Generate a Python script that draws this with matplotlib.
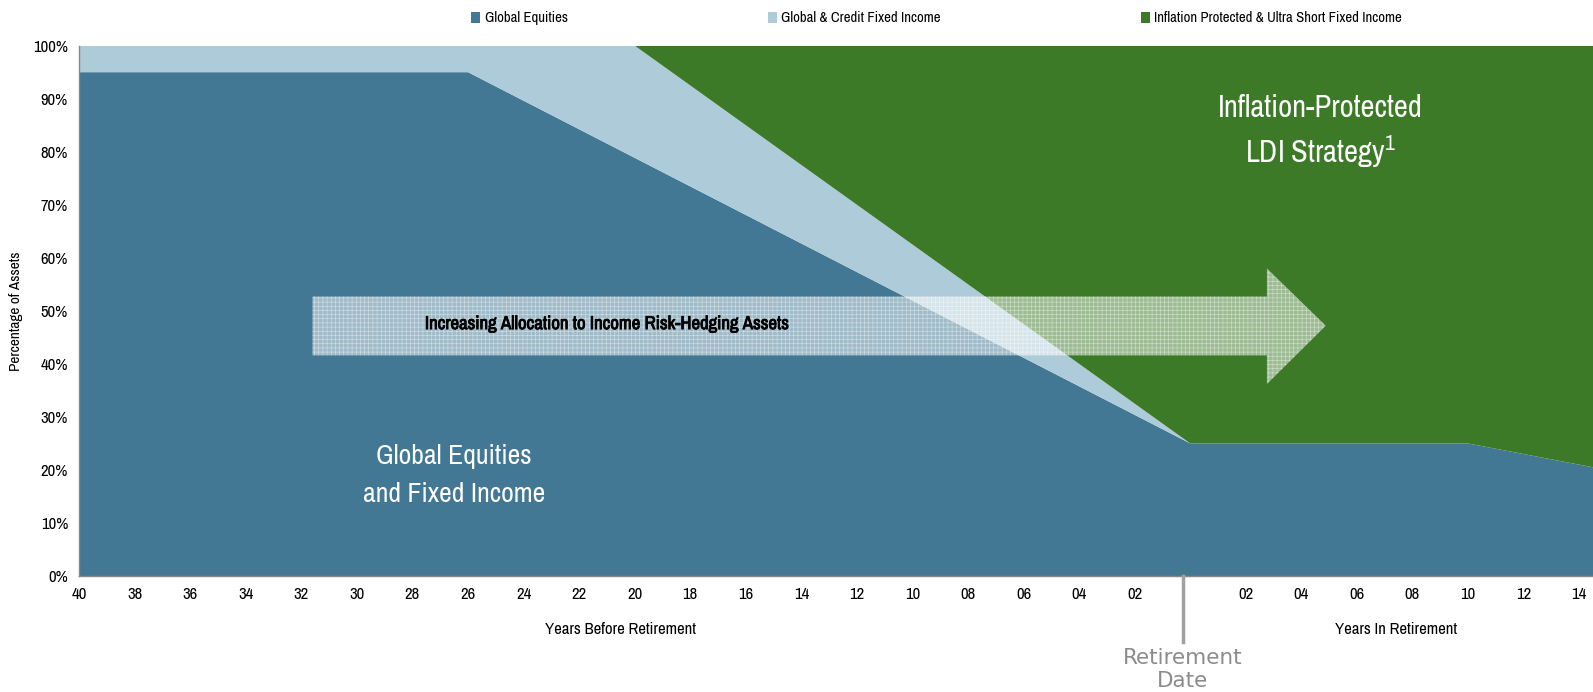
import matplotlib
matplotlib.use("Agg")
import matplotlib.pyplot as plt
from matplotlib import font_manager, patheffects
from matplotlib.patches import Polygon

# pick a narrow face if the machine has one
fonts = font_manager.fontManager.ttflist
narrow = sorted({f.name for f in fonts if "Narrow" in f.name or "Condensed" in f.name})
if "Liberation Sans Narrow" in narrow:
    narrow.insert(0, "Liberation Sans Narrow")
if narrow:
    plt.rcParams["font.family"] = [narrow[0], "DejaVu Sans"]
else:
    plt.rcParams["font.family"] = ["DejaVu Sans"]
plt.rcParams["hatch.linewidth"] = 0.4

# years relative to retirement (negative = before)
years = [-40, -26, -20, 0, 10, 14.5]
equities = [95, 95, 78.85, 25, 25, 20.5]
fixed_income = [5, 5, 21.15, 0, 0, 0]
inflation_protected = [0, 0, 0, 75, 75, 79.5]

labels = ["Global Equities", "Global & Credit Fixed Income",
          "Inflation Protected & Ultra Short Fixed Income"]
colors = ["#427893", "#adcbd8", "#3c7a28"]

tick_pos = list(range(-40, 15, 2))
tick_lbl = ["" if y == 0 else f"{abs(y):02d}" for y in tick_pos]

fig = plt.figure(figsize=(15.93, 6.92), dpi=100)
ax = fig.add_axes([0.0497, 0.1676, 0.9503, 0.7664])

ax.stackplot(years, equities, fixed_income, inflation_protected,
             colors=colors, labels=labels, linewidth=0)

ax.set_xlim(-40, 14.5)
ax.set_ylim(0, 100)
ax.set_xticks(tick_pos)
ax.set_xticklabels(tick_lbl, fontsize=12)
ax.set_yticks(range(0, 101, 10))
ax.set_yticklabels([f"{v}%" for v in range(0, 101, 10)], fontsize=12)
ax.tick_params(axis="x", length=0, pad=8)
ax.tick_params(axis="y", length=0, pad=8)
for s in ["top", "right"]:
    ax.spines[s].set_visible(False)
for s in ["left", "bottom"]:
    ax.spines[s].set_color("#888888")
    ax.spines[s].set_linewidth(1)
ax.set_ylabel("Percentage of Assets", fontsize=11, labelpad=7)

# arrow across the chart
shaft_l, shaft_r, tip = -31.6, 2.76, 4.88
body = [(shaft_l, 41.6), (shaft_r, 41.6), (shaft_r, 36.2), (tip, 47.2),
        (shaft_r, 58.0), (shaft_r, 52.7), (shaft_l, 52.7)]
ax.add_patch(Polygon(body, closed=True, facecolor=(1, 1, 1, 0.5),
                     edgecolor=(1, 1, 1, 0.55), hatch="++++", linewidth=0,
                     zorder=3))
ax.text(-21.0, 47.5, "Increasing Allocation to Income Risk-Hedging Assets",
        ha="center", va="center", fontsize=13.5, fontweight="bold",
        color="black", zorder=4,
        path_effects=[patheffects.withStroke(linewidth=0.6, foreground="black")])

ax.text(-26.5, 19.0, "Global Equities\nand Fixed Income", ha="center",
        va="center", fontsize=20, color="white", linespacing=1.65, zorder=4)
ax.text(4.7, 83.8, "Inflation-Protected\nLDI Strategy$^{\\mathregular{1}}$",
        ha="center", va="center", fontsize=22, color="white",
        linespacing=1.4, zorder=4)

# retirement marker below axis
ax.plot([-0.27, -0.27], [0, -12.5], color="#a0a0a0", lw=2.5, clip_on=False,
        zorder=5)
ax.text(-0.27, -13.6, "Retirement\nDate", ha="center", va="top",
        fontsize=15.5, color="#8c8c8c", family="DejaVu Sans",
        linespacing=1.15, clip_on=False)
ax.text(-20.5, -10.0, "Years Before Retirement", ha="center", va="center",
        fontsize=12)
ax.text(7.4, -10.0, "Years In Retirement", ha="center", va="center",
        fontsize=12)

fig.legend(loc="center", bbox_to_anchor=(0.588, 0.9735), ncol=3,
           frameon=False, fontsize=10.6, handlelength=0.6, handleheight=0.8,
           handletextpad=0.3, columnspacing=13.6)

fig.savefig("out.png", dpi=100)
